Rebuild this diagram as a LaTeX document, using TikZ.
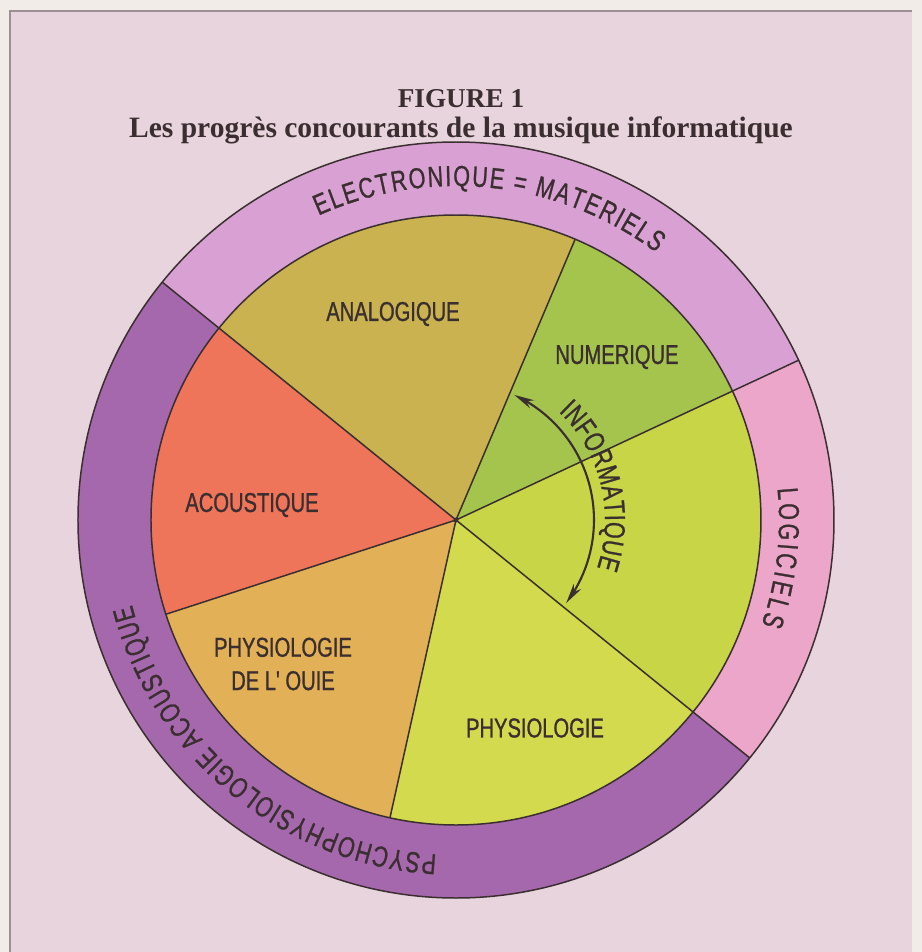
\documentclass[tikz,border=0pt]{standalone}
\usepackage{fontspec}
\setmainfont{Liberation Serif}
\newfontfamily\condfont[FakeStretch=0.74,FakeBold=0.9]{Liberation Sans}
\usetikzlibrary{arrows.meta,bending,decorations.text}

\definecolor{pagebg}{HTML}{E8D4DC}
\definecolor{edgebg}{HTML}{F2ECE9}
\definecolor{framec}{HTML}{9C9094}
\definecolor{ink}{HTML}{3A2E30}
\definecolor{elecring}{HTML}{D9A1D3}
\definecolor{logiring}{HTML}{ECA6CA}
\definecolor{psyring}{HTML}{A568AD}
\definecolor{analog}{HTML}{C9B24F}
\definecolor{numer}{HTML}{A5C44D}
\definecolor{inform}{HTML}{C7D547}
\definecolor{physio}{HTML}{D3DA4E}
\definecolor{ouie}{HTML}{E2B056}
\definecolor{acoust}{HTML}{EE7559}

\tikzset{
  seam/.style={draw=ink, line width=0.85pt},
  sector/.style={font=\condfont\fontsize{15.5}{19}\selectfont, text=ink, align=center},
  ringtext/.style={decorate, decoration={text along path, text align={fit to path},
    text color=ink, text={|\condfont\fontsize{16.5}{18}\selectfont|#1}}}
}

\begin{document}
\begin{tikzpicture}
  \useasboundingbox (-9.12,-8.64) rectangle (9.32,10.4);
  \fill[edgebg] (-9.12,-8.64) rectangle (9.32,10.4);
  \fill[pagebg] (-8.92,-8.64) rectangle (9.12,10.18);
  \draw[framec, line width=0.6pt] (-8.92,-8.64) -- (-8.92,10.18) -- (9.12,10.18);

  \node[font=\bfseries\fontsize{15.5}{18}\selectfont, text=ink] (fig) at (0.1,8.42) {FIGURE 1};
  \node[font=\bfseries\fontsize{16.8}{19}\selectfont, text=ink] (title) at (0.1,7.8)
    {Les progrès concourants de la musique informatique};

  \fill[analog] (0,0) -- (67:6.1) arc[start angle=67, end angle=141, radius=6.1] -- cycle;
  \fill[numer] (0,0) -- (25:6.1) arc[start angle=25, end angle=67, radius=6.1] -- cycle;
  \fill[inform] (0,0) -- (-39:6.1) arc[start angle=-39, end angle=25, radius=6.1] -- cycle;
  \fill[physio] (0,0) -- (-102.5:6.1) arc[start angle=-102.5, end angle=-39, radius=6.1] -- cycle;
  \fill[ouie] (0,0) -- (-162:6.1) arc[start angle=-162, end angle=-102.5, radius=6.1] -- cycle;
  \fill[acoust] (0,0) -- (141:6.1) arc[start angle=141, end angle=198, radius=6.1] -- cycle;

  \fill[elecring] (25:6.1) -- (25:7.56) arc[start angle=25, end angle=141, radius=7.56]
    -- (141:6.1) arc[start angle=141, end angle=25, radius=6.1] -- cycle;
  \fill[logiring] (-39:6.1) -- (-39:7.56) arc[start angle=-39, end angle=25, radius=7.56]
    -- (25:6.1) arc[start angle=25, end angle=-39, radius=6.1] -- cycle;
  \fill[psyring] (141:6.1) -- (141:7.56) arc[start angle=141, end angle=321, radius=7.56]
    -- (321:6.1) arc[start angle=321, end angle=141, radius=6.1] -- cycle;

  \draw[seam] (0,0) circle (6.1);
  \draw[seam] (0,0) circle (7.56);
  \draw[seam] (0,0) -- (141:7.56);
  \draw[seam] (0,0) -- (25:7.56);
  \draw[seam] (0,0) -- (-39:7.56);
  \draw[seam] (0,0) -- (67:6.1);
  \draw[seam] (0,0) -- (-102.5:6.1);
  \draw[seam] (0,0) -- (198:6.1);
  \fill[ink] (0,0) circle (0.05);

  \node[sector] (analogique) at (-1.26,4.12) {ANALOGIQUE};
  \node[sector] (numerique) at (3.22,3.26) {NUMERIQUE};
  \node[sector] (acoustique) at (-4.08,0.30) {ACOUSTIQUE};
  \node[sector] (ouie) at (-3.46,-2.88) {PHYSIOLOGIE\\DE L' OUIE};
  \node[sector] (physiologie) at (1.58,-4.16) {PHYSIOLOGIE};

  \path[ringtext={ELECTRONIQUE = MATERIELS}]
    (114.3:6.68) arc[start angle=114.3, end angle=53.2, radius=6.68];
  \path[ringtext={LOGICIELS}]
    (5.6:6.46) arc[start angle=5.6, end angle=-18.9, radius=6.46];
  \path[ringtext={PSYCHOPHYSIOLOGIE ACOUSTIQUE}]
    (-93.3:6.7) arc[start angle=-93.3, end angle=-165.3, radius=6.7];
  \path[ringtext={INFORMATIQUE}]
    (46.5:2.98) arc[start angle=46.5, end angle=-18.8, radius=2.98];

  \coordinate (infoA) at (65:2.76);
  \draw[ink, line width=1.2pt, {Stealth[length=4mm,width=1.8mm]}-{Stealth[length=4mm,width=1.8mm]}]
    (infoA) arc[start angle=65, end angle=-37, radius=2.76];
\end{tikzpicture}
\end{document}
